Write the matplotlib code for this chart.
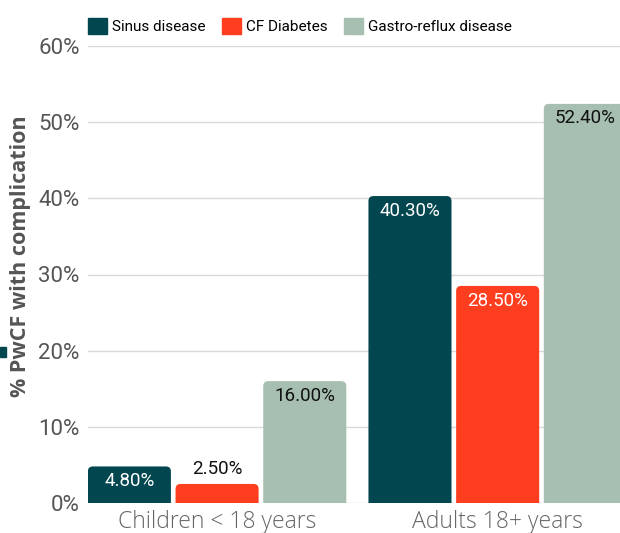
import matplotlib
matplotlib.use("Agg")
import matplotlib.pyplot as plt
import numpy as np
from matplotlib.patches import FancyBboxPatch, Rectangle

# data
groups = ["Children < 18 years", "Adults 18+ years"]
series = ["Sinus disease", "CF Diabetes", "Gastro-reflux disease"]
sinus = [4.8, 40.3]
diabetes = [2.5, 28.5]
reflux = [16.0, 52.4]
colors = ["#02474f", "#ff3d1f", "#a6bfb1"]
label_colors = ["white", "white", "#111111"]

fig = plt.figure(figsize=(6.2, 5.33), dpi=100)
ax = fig.add_axes([88 / 620, 30 / 533, 532 / 620, 457 / 533])

x = np.arange(len(groups))
width = 0.296
step = 0.3125
values = [sinus, diabetes, reflux]

for i, vals in enumerate(values):
    bars = ax.bar(x + (i - 1) * step, vals, width, color=colors[i], label=series[i])
    for rect, v in zip(bars, vals):
        # swap the plain bar for one with rounded top corners
        rect.set_visible(False)
        px_x = 280.0
        px_y = 457 / 60.0
        r = 5 / px_x
        patch = FancyBboxPatch((rect.get_x(), -2), rect.get_width(), v + 2,
                               boxstyle="round,pad=0,rounding_size=%f" % r,
                               mutation_aspect=px_x / px_y,
                               facecolor=colors[i], edgecolor="none", zorder=2)
        ax.add_patch(patch)
        cx = rect.get_x() + rect.get_width() / 2
        if v < 3:
            ax.annotate("%.2f%%" % v, (cx, v), xytext=(0, 11), textcoords="offset points",
                        ha="center", va="center", fontsize=13.5, color="#111111",
                        family="Roboto")
        else:
            ax.annotate("%.2f%%" % v, (cx, v), xytext=(0, -10.5), textcoords="offset points",
                        ha="center", va="center", fontsize=13.5, color=label_colors[i],
                        family="Roboto")

ax.set_xlim(-0.46, 1.436)
ax.set_ylim(0, 60)
ax.set_yticks(np.arange(0, 61, 10))
ax.set_yticklabels(["%d%%" % t for t in range(0, 61, 10)], family="Roboto",
                   fontsize=16, color="#555555")
ax.set_xticks(x)
ax.set_xticklabels(groups, family="Open Sans", fontweight="light", fontsize=16.5,
                   color="#666666")
ax.tick_params(axis="y", length=0, pad=6)
ax.tick_params(axis="x", length=0, pad=5)
ax.grid(axis="y", color="#d9d9d9", linewidth=1)
ax.set_axisbelow(True)
for s in ax.spines.values():
    s.set_visible(False)

fig.text(21 / 620, 1 - 256 / 533, "% PwCF with complication", rotation=90,
         ha="center", va="center", family="Open Sans", fontweight="bold",
         fontsize=15.5, color="#555555")

# small stray marker at left edge
fig.patches.append(Rectangle((0, 1 - 357 / 533), 6 / 620, 10 / 533,
                             transform=fig.transFigure, color="#02474f"))

handles = [Rectangle((0, 0), 1, 1, color=c) for c in colors]
fig.legend(handles, series, loc="center left", bbox_to_anchor=(82 / 620, 1 - 26 / 533),
           ncol=3, frameon=False, handlelength=1.25, handleheight=1.25,
           handletextpad=0.33, columnspacing=1.05, borderaxespad=0,
           prop={"family": "Roboto", "size": 11})

fig.savefig("out.png", dpi=100)
